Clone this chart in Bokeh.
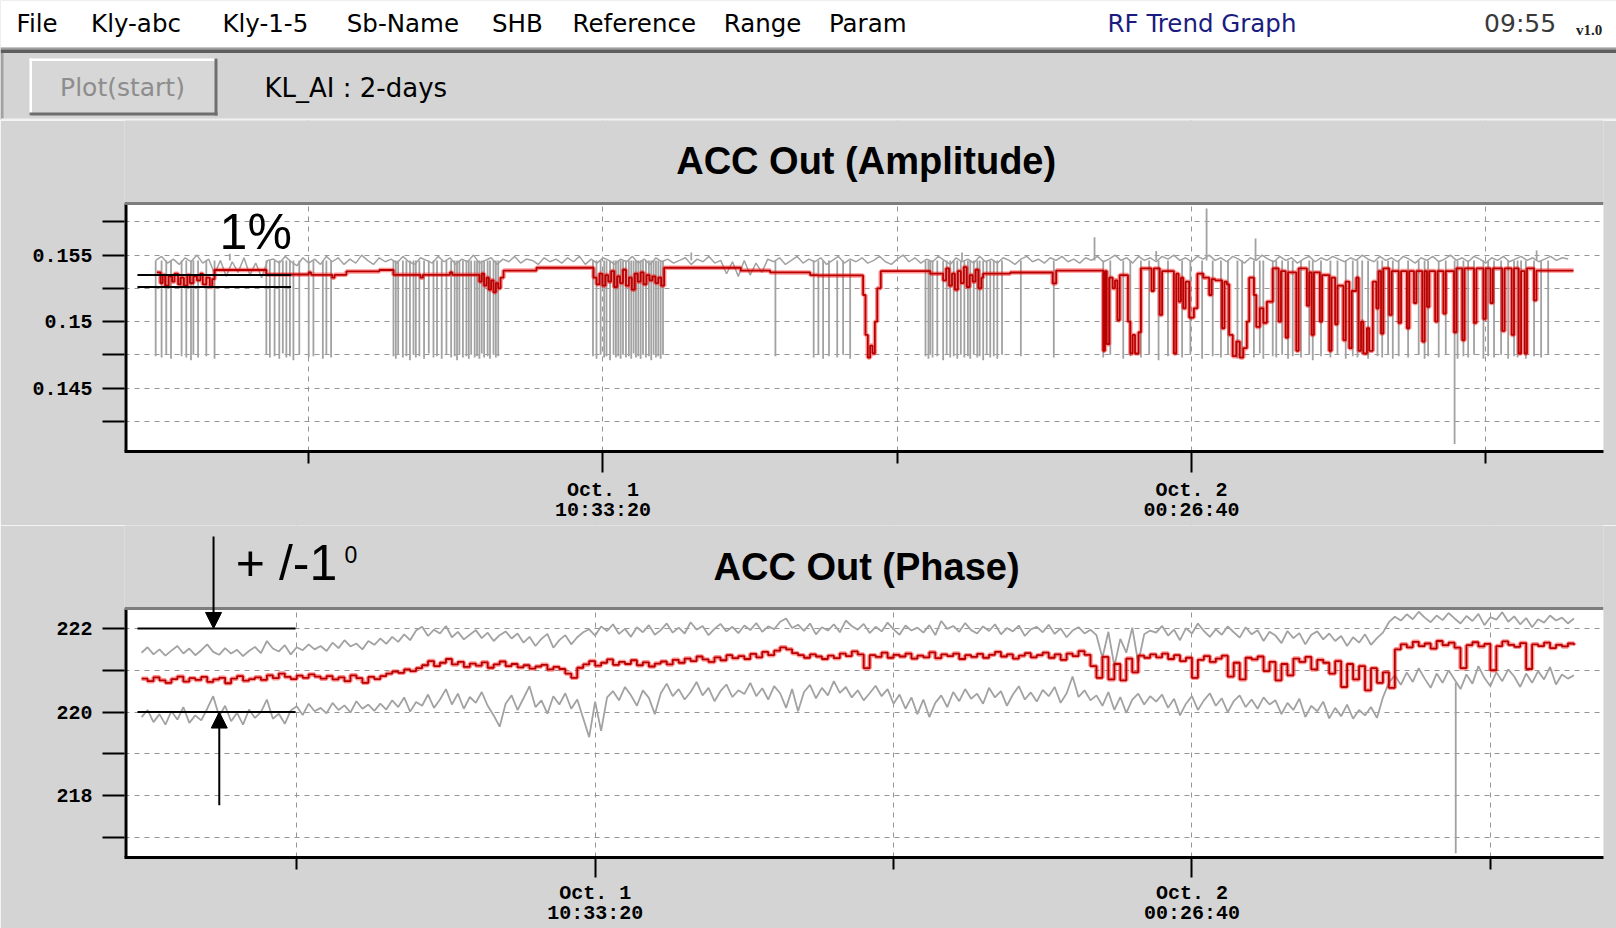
import numpy as np
from bokeh.plotting import figure
from bokeh.models import Range1d, FixedTicker, Label, Arrow, NormalHead, BoxAnnotation, Span
from bokeh.core.properties import value
from bokeh.embed import file_html
from bokeh.resources import INLINE

# ---------------------------------------------------------------------------
# Data.  Time is in ks relative to Oct. 1 10:33:20.
# ---------------------------------------------------------------------------
time_ticks = [0, 50]
time_minor = [-25, 25, 75]
time_labels = ["Oct. 1\n10:33:20", "Oct. 2\n00:26:40"]

amp_ticks = [0.145, 0.15, 0.155]
amp_tick_labels = ["0.145", "0.15", "0.155"]
amp_minor = [0.1425, 0.1475, 0.1525, 0.1575]

ph_ticks = [218, 220, 222]
ph_tick_labels = ["218", "220", "222"]
ph_minor = [217, 219, 221]

# regular logger samples: first sample and spacing (ks)
sample_t0 = -38.0
sample_dt = 0.5

# ACC Out amplitude, raw (grey) trace, one value per sample
amp_gray = [
    .1546, .1549, .1544, .1547, .1543, .1548, .1545, .1550, .1544, .1547,
    .1536, .1546, .1534, .1545, .1537, .1548, .1535, .1544, .1533, .1546,
    .1547, .1544, .1549, .1545, .1542, .1548, .1544, .1547, .1543, .1549,
    .1545, .1548, .1543, .1547, .1544, .1550, .1546, .1543, .1548, .1545,
    .1547, .1544, .1549, .1545, .1543, .1548, .1546, .1544, .1549, .1545,
    .1548, .1543, .1547, .1545, .1550, .1544, .1546, .1548, .1543, .1547,
    .1545, .1549, .1544, .1547, .1546, .1543, .1548, .1545, .1547, .1544,
    .1548, .1545, .1549, .1543, .1547, .1544, .1548, .1546, .1543, .1547,
    .1545, .1549, .1544, .1547, .1543, .1548, .1545, .1547, .1544, .1546,
    .1548, .1543, .1547, .1545, .1549, .1544, .1546, .1536, .1545, .1534,
    .1546, .1535, .1544, .1537, .1547, .1545, .1548, .1543, .1546, .1549,
    .1544, .1547, .1545, .1548, .1543, .1546, .1549, .1544, .1547, .1545,
    .1548, .1544, .1546, .1549, .1545, .1543, .1547, .1550, .1545, .1548,
    .1544, .1547, .1545, .1549, .1546, .1543, .1548, .1545, .1547, .1544,
    .1549, .1545, .1547, .1544, .1548, .1546, .1543, .1547, .1549, .1545,
    .1547, .1544, .1548, .1546, .1549, .1545, .1547, .1544, .1548, .1546,
    .1549, .1545, .1547, .1550, .1546, .1548, .1544, .1549, .1546, .1548,
    .1545, .1549, .1547, .1550, .1546, .1548, .1545, .1549, .1547, .1550,
    .1546, .1548, .1545, .1549, .1547, .1544, .1548, .1546, .1550, .1547,
    .1545, .1549, .1546, .1548, .1544, .1547, .1549, .1545, .1548, .1546,
    .1549, .1547, .1545, .1548, .1546, .1550, .1547, .1545, .1549, .1546,
    .1548, .1545, .1549, .1547, .1544, .1548, .1546, .1549, .1545, .1547,
    .1550, .1546, .1548, .1545, .1549, .1547, .1544, .1548, .1546, .1549,
    .1545, .1547, .1549, .1546, .1548, .1545, .1547, .1549, .1546, .1548,
    .1547,
]

# nominal level of the grey trace and its short excursions (dropouts / spikes)
amp_gray_level = 0.1546
amp_gray_spike_t = [
    -38.0, -37.5, -37.1, -36.7, -35.8, -35.4, -35.0, -34.8, -34.4, -33.7, -33.0,
    -28.6, -28.3, -27.9, -27.5, -27.2, -26.9, -26.6, -26.3, -25.8, -25.0, -24.6,
    -23.8, -23.5, -23.1,
    -17.8, -17.6, -17.4, -17.0, -16.7, -16.4, -16.1, -15.9, -15.6, -15.2, -14.8,
    -14.4, -14.1, -13.7, -13.3, -12.9, -12.6, -12.4, -12.2, -11.9, -11.6, -11.4,
    -11.2, -10.9, -10.7, -10.5, -10.3, -10.1, -9.8, -9.6, -9.3, -9.1, -8.9,
    -0.85, -0.55, -0.2, 0.1, 0.3, 0.6, 0.9, 1.1, 1.3, 1.5, 1.7, 1.95, 2.2, 2.4,
    2.6, 2.8, 3.0, 3.2, 3.4, 3.65, 3.9, 4.1, 4.3, 4.5, 4.7, 4.9, 5.1,
    14.65, 17.9, 18.3, 18.7, 19.2, 19.9, 20.4, 21.0,
    27.4, 27.65, 27.8, 28.0, 28.4, 28.9, 29.2, 29.5, 29.8, 30.1, 30.4, 30.7,
    31.0, 31.2, 31.5, 31.8, 32.0, 32.3, 32.6, 32.9, 33.2, 33.5, 33.9,
    35.5, 38.3,
    42.5, 43.1, 44.2, 44.8, 45.7, 46.4, 47.2, 48.0, 49.2, 49.9, 50.9, 51.8,
    52.5, 53.1, 53.9, 54.3, 55.3, 55.8, 56.1, 56.9, 57.2, 57.7, 58.2, 58.6,
    59.3, 60.0, 60.3, 61.0, 61.8, 62.4, 63.1, 63.7, 64.1, 64.5, 65.0, 65.8,
    66.2, 66.7, 67.1, 67.6, 68.4, 69.3, 69.8, 70.1, 71.0, 71.6, 72.35, 72.6,
    73.1, 73.5, 74.0, 74.8, 75.2, 75.7, 76.3, 76.9, 77.4, 77.7, 78.0, 78.4,
    79.1, 79.7, 80.3,
    41.76, 51.28, 55.44, 79.32, -31.7, 7.5, 30.5, 47.0,
]
amp_gray_spike_v = [
    .1474, .1473, .1475, .1472, .1474, .1473, .1471, .1475, .1473, .1474, .1472,
    .1475, .1473, .1474, .1472, .1476, .1473, .1474, .1471, .1475, .1473, .1474,
    .1472, .1475, .1473,
    .1474, .1472, .1475, .1473, .1474, .1471, .1475, .1473, .1474, .1472, .1476,
    .1473, .1474, .1472, .1475, .1473, .1474, .1471, .1475, .1473, .1474, .1472,
    .1475, .1473, .1474, .1472, .1476, .1473, .1474, .1472, .1475, .1473, .1474,
    .1474, .1472, .1475, .1473, .1474, .1471, .1475, .1473, .1474, .1472, .1475,
    .1473, .1474, .1472, .1476, .1473, .1474, .1472, .1475, .1473, .1474, .1471,
    .1475, .1473, .1474, .1472, .1475,
    .1474, .1473, .1475, .1472, .1474, .1473, .1475, .1472,
    .1474, .1472, .1475, .1473, .1474, .1471, .1475, .1473, .1474, .1472, .1475,
    .1473, .1474, .1472, .1475, .1473, .1474, .1471, .1475, .1473, .1474, .1472,
    .1475,
    .1474, .1473,
    .1473, .1475, .1472, .1474, .1473, .1475, .1471, .1474, .1473, .1475, .1472,
    .1474, .1473, .1475, .1472, .1474, .1473, .1476, .1472, .1474, .1473, .1475,
    .1472, .1474, .1473, .1475, .1471, .1474, .1473, .1475, .1472, .1474, .1473,
    .1475, .1472, .1474, .1473, .1475, .1472, .1474, .1473, .1475, .1472, .1474,
    .1473, .1475, .1408, .1472, .1474, .1473, .1475, .1472, .1474, .1473, .1475,
    .1472, .1474, .1473, .1475, .1472, .1474, .1473, .1475,
    .15635, .1585, .15625, .15535, .1551, .1552, .1552, .1553,
]

# ACC Out amplitude, averaged (red) trace: step changes (time, value)
amp_red_t = [
    -37.9, -37.6, -37.4, -37.2, -36.9, -36.6, -36.4, -36.1, -35.9, -35.6, -35.3,
    -35.1, -34.8, -34.5, -34.2, -34.0, -33.7, -33.4, -33.2, -33.0, -28.6, -25.0,
    -24.8, -23.0, -22.8, -21.8, -19.0, -17.8, -15.5, -15.3, -13.0, -12.8, -10.5,
    -10.3, -10.1, -9.9, -9.7, -9.5, -9.3, -9.1, -8.9, -8.7, -8.45, -5.65,
    -0.8, -0.55, -0.3, -0.05, 0.2, 0.45, 0.7, 0.95, 1.2, 1.45, 1.7, 1.95, 2.2,
    2.45, 2.7, 2.95, 3.2, 3.45, 3.7, 3.95, 4.2, 4.45, 4.7, 4.95, 5.2, 11.7,
    14.2, 17.6, 18.2, 22.1, 22.3, 22.5, 22.7, 22.9, 23.1, 23.3, 23.6, 27.8,
    28.9, 29.15, 29.4, 29.65, 29.9, 30.15, 30.4, 30.65, 30.9, 31.15, 31.4,
    31.65, 31.9, 32.15, 32.3, 34.6, 38.2, 38.5,
    42.5, 42.65, 42.8, 43.0, 43.3, 43.5, 43.7, 43.9, 44.6, 44.8, 45.0, 45.2,
    45.5, 45.7, 46.6, 46.8, 47.3, 47.5, 48.5, 48.7, 48.9, 49.1, 49.3, 49.5,
    49.8, 50.2, 50.5, 51.0, 51.5, 51.7, 52.0, 52.6, 52.8, 53.0, 53.2, 53.5,
    53.8, 54.1, 54.4, 54.7, 54.9, 55.3, 55.5, 55.8, 56.1, 56.4, 56.9, 57.4,
    57.6, 58.0, 58.2, 58.9, 59.1, 59.8, 60.0, 60.2, 60.4, 60.9, 61.1, 61.7,
    61.9, 62.2, 62.4, 62.9, 63.1, 63.4, 63.6, 64.0, 64.2, 64.4, 64.6, 64.9,
    65.1, 65.4, 65.7, 65.9, 66.1, 66.3, 66.8, 67.0, 67.6, 67.8, 68.3, 68.5,
    68.9, 69.1, 69.6, 69.8, 70.0, 70.2, 70.7, 70.9, 71.4, 71.6, 72.3, 72.5,
    73.0, 73.2, 74.0, 74.2, 74.8, 75.0, 75.4, 75.6, 76.4, 76.6, 77.2, 77.4,
    77.8, 78.0, 78.3, 78.5, 79.1, 79.3, 82.45,
]
amp_red_v = [
    .1537, .1529, .1535, .1527, .1534, .1530, .1536, .1528, .1533, .1527, .1535,
    .1529, .1534, .1531, .1536, .1528, .1533, .1526, .1532, .15388, .15354, .1537,
    .15352, .1533, .15352, .15377, .15388, .15352, .1533, .15352, .1537, .15352, .1530,
    .1536, .1527, .1533, .1524, .1531, .1522, .1529, .1525, .1533, .15384, .15405,
    .1533, .1528, .1536, .1527, .1535, .1530, .1538, .1526, .1534, .1529, .1539, .1527, .1533,
    .1524, .1536, .1530, .1537, .1528, .1535, .1531, .1534, .1529, .1533, .1527, .15405, .15384,
    .1537, .1535, .15347, .1520, .1490, .1473, .1482, .1476, .1500, .1525, .15379, .1536,
    .1531, .1540, .1527, .1536, .1524, .1538, .1529, .1541, .1526, .1535, .1530,
    .1539, .1525, .1533, .1536, .15369, .15287, .15384,
    .1478, .1538, .1483, .1533, .1525, .1531, .1501, .1535, .1500, .1476, .1490, .1476,
    .1492, .1540, .1523, .1540, .1505, .1538, .1476, .1536, .1515, .1533, .1510, .1530,
    .1503, .1510, .1536, .1533, .1520, .1532, .1531, .1495, .1530, .1528, .1490, .1474,
    .1485, .1473, .1480, .1500, .1533, .1520, .1496, .1510, .1499, .1515, .1540, .1500,
    .1538, .1488, .1537, .1478, .1540, .1512, .1537, .1490, .1537, .1500, .1535, .1478,
    .1533, .1498, .1527, .1486, .1530, .1480, .1523, .1533, .1478, .1500, .1476, .1495,
    .1478, .1530, .1510, .1538, .1491, .1540, .1505, .1538, .1499, .1538, .1495, .1538,
    .1514, .1538, .1485, .1538, .1511, .1538, .1500, .1538, .1506, .1538, .1492, .1540,
    .1486, .1540, .1499, .1540, .1502, .1540, .1514, .1540, .1493, .1540, .1490, .1540,
    .1476, .1538, .1476, .1540, .1516, .15384, .15384,
]

# ACC Out phase (deg): upper limit trace, averaged trace, lower limit trace
ph_hi = [
    221.42, 221.55, 221.38, 221.50, 221.35, 221.47, 221.58, 221.40, 221.52, 221.36,
    221.48, 221.62, 221.44, 221.37, 221.53, 221.40, 221.49, 221.34, 221.46, 221.56,
    221.41, 221.70, 221.52, 221.45, 221.60, 221.38, 221.55, 221.48, 221.62, 221.50,
    221.58, 221.46, 221.66, 221.53, 221.72, 221.57, 221.64, 221.50, 221.70, 221.61,
    221.76, 221.63, 221.80, 221.68, 221.86, 221.72, 221.95, 222.04, 221.82, 221.97,
    221.88, 222.06, 221.79, 221.92, 221.74, 221.85, 221.96, 221.77, 221.90, 221.70,
    221.84, 221.93, 221.76, 221.88, 221.66, 221.80, 221.58, 221.75, 221.87, 221.54,
    221.72, 221.84, 221.62, 221.79, 221.91, 221.98, 221.83, 222.05, 221.94, 222.10,
    221.87, 221.99, 221.80, 222.03, 221.91, 222.08, 221.85, 221.96, 222.12, 221.90,
    222.02, 221.88, 222.15, 221.97, 222.06, 221.84, 221.99, 222.11, 221.93, 222.04,
    221.89, 222.07, 221.96, 222.13, 221.92, 222.05, 221.98, 222.16, 222.24, 222.01,
    222.09, 221.94, 222.12, 221.86, 222.03, 221.95, 222.10, 221.91, 222.19, 222.06,
    221.97, 222.11, 221.89, 222.04, 221.93, 222.14, 221.98, 221.85, 222.07, 221.95,
    222.02, 221.90, 222.08, 221.84, 222.18, 221.99, 222.06, 221.92, 222.13, 221.96,
    221.88, 222.05, 221.94, 222.10, 221.86, 222.01, 221.93, 222.07, 221.82, 221.98,
    222.04, 221.91, 222.09, 221.87, 222.00, 221.79, 221.95, 222.03, 221.88, 221.97,
    221.84, 221.30, 221.92, 221.10, 221.75, 221.42, 222.02, 221.18, 221.86, 221.95,
    221.90, 222.06, 221.83, 221.97, 221.72, 222.01, 221.88, 222.12, 221.94, 221.80,
    221.98, 221.85, 222.05, 221.91, 221.78, 222.03, 221.86, 221.96, 221.70, 221.92,
    221.83, 221.65, 221.94, 221.77, 221.89, 221.62, 221.85, 221.93, 221.74, 221.88,
    221.70, 221.82, 221.58, 221.79, 221.66, 221.86, 221.61, 221.77, 221.90, 222.15,
    222.28, 222.19, 222.34, 222.22, 222.40, 222.26, 222.15, 222.31, 222.20, 222.37,
    222.24, 222.12, 222.30, 222.18, 222.35, 222.08, 222.27, 222.21, 222.39, 222.16,
    222.29, 222.10, 222.25, 222.03, 222.22, 222.14, 222.31, 222.19, 222.26, 222.12,
    222.24,
]
ph_red = [
    220.80, 220.74, 220.83, 220.76, 220.70, 220.79, 220.85, 220.73, 220.81, 220.77,
    220.84, 220.72, 220.78, 220.82, 220.69, 220.80, 220.86, 220.75, 220.79, 220.83,
    220.77, 220.88, 220.81, 220.92, 220.84, 220.79, 220.87, 220.82, 220.90, 220.85,
    220.80, 220.86, 220.78, 220.83, 220.74, 220.88, 220.81, 220.70, 220.84, 220.79,
    220.86, 220.92, 220.97, 220.94, 221.02, 220.98, 221.05, 221.12, 221.22, 221.10,
    221.18, 221.27, 221.14, 221.20, 221.08, 221.16, 221.11, 221.19, 221.06, 221.14,
    221.21, 221.10, 221.15, 221.07, 221.12, 221.04, 221.09, 221.13, 221.02, 221.08,
    221.03, 220.92, 220.82, 221.06, 221.14, 221.22, 221.11, 221.18, 221.26, 221.13,
    221.20, 221.15, 221.24, 221.12, 221.19, 221.09, 221.16, 221.21, 221.14, 221.25,
    221.18, 221.28, 221.22, 221.33, 221.26, 221.20, 221.31, 221.24, 221.36, 221.29,
    221.34, 221.27, 221.39, 221.31, 221.44, 221.36, 221.47, 221.55, 221.50, 221.41,
    221.36, 221.30, 221.38, 221.33, 221.27, 221.35, 221.29, 221.40, 221.34, 221.45,
    221.38, 221.05, 221.36, 221.32, 221.42, 221.30, 221.37, 221.33, 221.40, 221.28,
    221.35, 221.31, 221.43, 221.29, 221.38, 221.34, 221.40, 221.27, 221.36, 221.32,
    221.39, 221.30, 221.37, 221.44, 221.33, 221.38, 221.28, 221.35, 221.41, 221.31,
    221.36, 221.42, 221.30, 221.38, 221.25, 221.40, 221.34, 221.46, 221.37, 221.10,
    220.82, 221.32, 220.78, 221.15, 220.76, 221.28, 220.95, 221.35, 221.30, 221.38,
    221.31, 221.40, 221.27, 221.36, 221.22, 221.30, 220.82, 221.25, 221.34, 221.20,
    221.28, 221.35, 220.85, 221.18, 220.78, 221.30, 221.26, 221.33, 220.98, 221.20,
    220.76, 221.15, 220.88, 221.28, 221.20, 221.32, 221.02, 221.25, 221.18, 220.92,
    221.22, 220.60, 221.15, 220.78, 221.10, 220.52, 221.05, 220.70, 220.95, 220.58,
    221.50, 221.62, 221.55, 221.68, 221.58, 221.64, 221.52, 221.70, 221.60, 221.66,
    221.54, 221.05, 221.60, 221.67, 221.57, 221.63, 221.00, 221.58, 221.69, 221.61,
    221.56, 221.65, 221.03, 221.62, 221.58, 221.66, 221.53, 221.61, 221.57, 221.64,
    221.60,
]
ph_lo = [
    219.88, 220.05, 219.76, 219.95, 219.70, 220.02, 219.82, 220.12, 219.74, 219.92,
    219.80, 220.08, 220.38, 219.90, 220.15, 219.78, 219.98, 219.70, 220.06, 219.86,
    220.00, 220.30, 219.84, 219.96, 219.72, 220.04, 220.14, 219.93, 220.20, 220.02,
    220.10, 219.97, 220.22, 220.05, 220.16, 219.99, 220.26, 220.08, 220.18, 220.03,
    220.20, 220.06, 220.28, 220.12, 220.35, 220.01, 220.24, 220.15, 220.42, 220.10,
    220.30, 220.55, 220.18, 220.44, 220.08, 220.36, 220.22, 220.48, 220.15, 219.92,
    219.65, 220.20, 220.40, 220.05, 220.33, 220.62, 220.12, 220.28, 219.96, 220.38,
    220.18, 220.45, 220.08, 220.30, 219.85, 219.40, 220.25, 219.55, 220.35, 220.50,
    220.28, 220.60, 220.40, 220.15, 220.52, 220.34, 219.95, 220.45, 220.68, 220.38,
    220.55, 220.30, 220.48, 220.72, 220.40, 220.58, 220.26, 220.50, 220.66, 220.36,
    220.52, 220.43, 220.70, 220.38, 220.57, 220.30, 220.62, 220.45, 220.10, 220.55,
    220.02, 220.48, 220.65, 220.33, 220.58, 220.40, 220.74, 220.46, 220.60, 220.35,
    220.52, 220.28, 220.45, 220.63, 220.38, 220.55, 220.20, 220.42, 220.08, 220.35,
    219.95, 220.30, 219.88, 220.22, 220.40, 220.12, 220.48, 220.26, 220.55, 220.32,
    220.44, 220.20, 220.58, 220.35, 220.50, 220.15, 220.42, 220.62, 220.30, 220.47,
    220.25, 220.53, 220.38, 220.60, 220.22, 220.45, 220.85, 220.36, 220.52, 220.28,
    220.40, 220.15, 220.48, 220.05, 220.36, 219.98, 220.30, 220.44, 220.18, 220.38,
    220.25, 220.42, 220.10, 220.32, 219.92, 220.20, 220.38, 220.05, 220.28, 220.45,
    220.15, 220.33, 220.00, 220.26, 220.40, 220.12, 220.30, 220.08, 220.35, 220.18,
    220.28, 219.95, 220.22, 220.05, 220.32, 219.88, 220.15, 220.02, 220.25, 219.85,
    220.10, 219.90, 220.18, 219.84, 220.05, 219.92, 220.12, 219.86, 220.35, 220.70,
    220.88, 220.65, 220.95, 220.72, 221.05, 220.80, 220.58, 220.92, 220.70, 221.00,
    220.78, 220.55, 220.90, 220.68, 221.10, 220.82, 220.62, 220.95, 220.74, 221.02,
    220.85, 220.60, 220.92, 220.70, 220.98, 220.78, 221.08, 220.66, 220.90, 220.80,
    220.88,
]
# single glitch on the lower phase trace
ph_spike_t = [72.1]
ph_spike_from = [220.7]
ph_spike_v = [216.62]

# tolerance marks
amp_band = [0.1535, 0.1526]
amp_band_t = [-39.55, -26.5]
ph_band = [222.0, 220.0]
ph_band_t = [-38.34, -25.1]


def sample_times(series):
    return sample_t0 + sample_dt * np.arange(len(series))


# ---------------------------------------------------------------------------
# Styling / layout
# ---------------------------------------------------------------------------
W = 1616
BG = "#d4d4d4"
GRAY = "#a2a2a2"
RED_GLOW = "#ff1010"
RED = "#b80000"
SANS = "DejaVu Sans"
TICK_FONT = "Liberation Mono"

# ---- window header: menu bar and tool row ----
hd = figure(width=W, height=120, x_range=Range1d(0, W), y_range=Range1d(120, 0),
            x_axis_location=None, y_axis_location=None, toolbar_location=None,
            output_backend="svg", min_border=0, title=None)
hd.grid.visible = False
hd.outline_line_color = None
hd.background_fill_color = BG
hd.border_fill_color = BG

hd.quad(left=[0], right=[W], top=[0], bottom=[47], fill_color="white", line_color=None)
hd.quad(left=[0], right=[W], top=[47], bottom=[49], fill_color="#a0a0a0", line_color=None)
hd.quad(left=[0], right=[W], top=[49], bottom=[52.5], fill_color="#5e5e5e", line_color=None)
hd.quad(left=[0], right=[3], top=[52.5], bottom=[120], fill_color="#a2a2a2", line_color=None)
hd.quad(left=[0], right=[W], top=[118], bottom=[120], fill_color="#f2f2f2", line_color=None)
# button
hd.quad(left=[29], right=[217], top=[58], bottom=[115], fill_color="#d7d7d7", line_color=None)
hd.quad(left=[29, 29], right=[217, 31.5], top=[58, 58], bottom=[60.5, 115],
        fill_color="white", line_color=None)
hd.quad(left=[29, 214], right=[217, 217], top=[112, 58], bottom=[115, 115],
        fill_color="#6e6e6e", line_color=None)

menu_items = ["File", "Kly-abc", "Kly-1-5", "Sb-Name", "SHB", "Reference", "Range", "Param"]
menu_x = [36.6, 135.5, 264.9, 402.4, 516.8, 633.8, 762.1, 867.2]
hd.text(x=menu_x, y=[23] * len(menu_x), text=menu_items, text_font=value(SANS),
        text_font_size="24.5px", text_align="center", text_baseline="middle", text_color="black")
hd.text(x=[1201.5], y=[23], text=["RF Trend Graph"], text_font=value(SANS),
        text_font_size="24.5px", text_align="center", text_baseline="middle", text_color="#1c1c80")
hd.text(x=[1519.6], y=[23], text=["09:55"], text_font=value(SANS),
        text_font_size="25px", text_align="center", text_baseline="middle", text_color="#3a3a3a")
hd.text(x=[1588.6], y=[29.5], text=["v1.0"], text_font=value("Liberation Serif"),
        text_font_style="bold", text_font_size="15px", text_align="center",
        text_baseline="middle", text_color="#222222")
hd.text(x=[122], y=[87], text=["Plot(start)"], text_font=value(SANS),
        text_font_size="25px", text_align="center", text_baseline="middle", text_color="#8d8d8d")
hd.text(x=[264], y=[87], text=["KL_AI : 2-days"], text_font=value(SANS),
        text_font_size="26px", text_align="left", text_baseline="middle", text_color="black")


def style_plot(p, y_ticks, y_labels, y_minor, box_top, tick_out, standoff):
    p.background_fill_color = BG
    p.border_fill_color = BG
    p.outline_line_color = None
    # white plotting box below the window background
    p.add_layout(BoxAnnotation(top=box_top, fill_color="white", fill_alpha=1.0,
                               line_color=None, level="image"))

    xa = p.xaxis[0]
    xa.ticker = FixedTicker(ticks=time_ticks, minor_ticks=time_minor)
    xa.major_label_overrides = dict(zip(time_ticks, time_labels))
    xa.major_tick_out = tick_out
    xa.major_tick_in = 0
    xa.minor_tick_out = 12
    xa.minor_tick_in = 0
    xa.major_label_standoff = standoff
    xa.major_label_text_line_height = 0.9
    xa.axis_line_color = "black"
    xa.axis_line_width = 3

    ya = p.yaxis[0]
    ya.ticker = FixedTicker(ticks=y_ticks, minor_ticks=y_minor)
    ya.major_label_overrides = dict(zip(y_ticks, y_labels))
    ya.major_tick_out = 22
    ya.major_tick_in = 0
    ya.minor_tick_out = 22
    ya.minor_tick_in = 0
    ya.major_label_standoff = 10
    ya.bounds = (p.y_range.start, box_top)
    ya.axis_line_color = None

    # vertical rule along the plotting box only
    x0 = p.x_range.start
    p.segment(x0=[x0], y0=[p.y_range.start], x1=[x0], y1=[box_top],
              line_color="black", line_width=6)

    for ax in (xa, ya):
        ax.major_tick_line_color = "black"
        ax.major_tick_line_width = 2
        ax.minor_tick_line_color = "black"
        ax.minor_tick_line_width = 2
        ax.major_label_text_font = TICK_FONT
        ax.major_label_text_font_style = "bold"
        ax.major_label_text_font_size = "20px"
        ax.major_label_text_color = "black"

    for g in p.grid:
        g.grid_line_color = "#959595"
        g.grid_line_dash = "5 5"
        g.grid_line_width = 1
        g.minor_grid_line_color = "#959595"
        g.minor_grid_line_dash = "5 5"
        g.minor_grid_line_width = 1


def finish_box(p, box_top):
    # window background above the plotting box, and the sunken top edge of the box
    p.add_layout(BoxAnnotation(bottom=box_top, fill_color=BG, fill_alpha=1.0, line_color=None))
    p.add_layout(Span(location=box_top, dimension="width", line_color="#7d7d7d", line_width=3))


# ---- ACC Out (Amplitude) ----
AMP_BOX_TOP = 0.158880
p1 = figure(width=W, height=405, x_range=Range1d(-40.65, 85.0),
            y_range=Range1d(0.140233, 0.165120), output_backend="svg",
            toolbar_location=None, title=None,
            min_border_left=124, min_border_right=13, min_border_top=0, min_border_bottom=74)
style_plot(p1, amp_ticks, amp_tick_labels, amp_minor, AMP_BOX_TOP, tick_out=21, standoff=6)

p1.line(sample_times(amp_gray), amp_gray, line_color=GRAY, line_width=1.5)
p1.segment(x0=amp_gray_spike_t, y0=amp_gray_level, x1=amp_gray_spike_t, y1=amp_gray_spike_v,
           line_color=GRAY, line_width=1.8)
p1.step(amp_red_t, amp_red_v, mode="after", line_color=RED_GLOW, line_width=4.5, line_alpha=0.45)
p1.step(amp_red_t, amp_red_v, mode="after", line_color=RED, line_width=1.8)
p1.segment(x0=[amp_band_t[0]] * 2, y0=amp_band, x1=[amp_band_t[1]] * 2, y1=amp_band,
           line_color="black", line_width=2)
finish_box(p1, AMP_BOX_TOP)

p1.add_layout(Label(x=22.36, y=0.162105, text="ACC Out (Amplitude)", text_align="center",
                    text_baseline="alphabetic", text_font="Liberation Sans",
                    text_font_style="bold", text_font_size="38px", text_color="black"))
p1.add_layout(Label(x=-29.5, y=0.156729, text="1%", text_align="center",
                    text_baseline="alphabetic", text_font="Liberation Sans",
                    text_font_size="50px", text_color="black"))

# ---- ACC Out (Phase) ----
PH_BOX_TOP = 222.478
p2 = figure(width=W, height=403, x_range=Range1d(-39.43, 84.48),
            y_range=Range1d(216.52, 224.464), output_backend="svg",
            toolbar_location=None, title=None,
            min_border_left=124, min_border_right=13, min_border_top=0, min_border_bottom=71)
style_plot(p2, ph_ticks, ph_tick_labels, ph_minor, PH_BOX_TOP, tick_out=20, standoff=4)

p2.line(sample_times(ph_hi), ph_hi, line_color=GRAY, line_width=1.8)
p2.line(sample_times(ph_lo), ph_lo, line_color=GRAY, line_width=1.8)
p2.segment(x0=ph_spike_t, y0=ph_spike_from, x1=ph_spike_t, y1=ph_spike_v,
           line_color=GRAY, line_width=1.8)
p2.step(sample_times(ph_red), ph_red, mode="after", line_color=RED_GLOW, line_width=4.5,
        line_alpha=0.45)
p2.step(sample_times(ph_red), ph_red, mode="after", line_color=RED, line_width=1.8)
p2.segment(x0=[ph_band_t[0]] * 2, y0=ph_band, x1=[ph_band_t[1]] * 2, y1=ph_band,
           line_color="black", line_width=2)
finish_box(p2, PH_BOX_TOP)

p2.add_layout(Label(x=22.74, y=223.464, text="ACC Out (Phase)", text_align="center",
                    text_baseline="alphabetic", text_font="Liberation Sans",
                    text_font_style="bold", text_font_size="38px", text_color="black"))
p2.add_layout(Label(x=-30.1, y=223.56, text="+ /-1", text_align="left",
                    text_baseline="alphabetic", text_font="Liberation Sans",
                    text_font_size="50px", text_color="black"))
p2.add_layout(Label(x=-21.0, y=223.77, text="0", text_align="left",
                    text_baseline="alphabetic", text_font="Liberation Sans",
                    text_font_size="23px", text_color="black"))
p2.add_layout(Arrow(x_start=-31.97, y_start=224.2, x_end=-31.97, y_end=ph_band[0],
                    line_color="black", line_width=2,
                    end=NormalHead(size=16, fill_color="black", line_color="black")))
p2.add_layout(Arrow(x_start=-31.49, y_start=217.77, x_end=-31.49, y_end=ph_band[1],
                    line_color="black", line_width=2,
                    end=NormalHead(size=16, fill_color="black", line_color="black")))

open("out.html", "w").write(file_html([hd, p1, p2], INLINE, title="RF Trend Graph"))
